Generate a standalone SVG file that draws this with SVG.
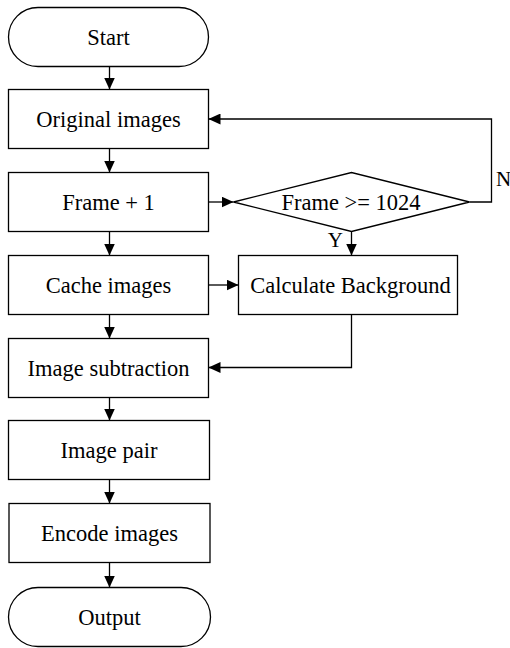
<svg xmlns="http://www.w3.org/2000/svg" width="510" height="648" viewBox="0 0 510 648">
  <style>
    .shape { fill: #ffffff; stroke: #000000; stroke-width: 1.3; }
    .edge { fill: none; stroke: #000000; stroke-width: 1.3; }
    .label { font-family: "Liberation Serif", "Times New Roman", serif; font-size: 22.5px; fill: #000000; text-anchor: middle; }
    .mark { font-family: "Liberation Serif", "Times New Roman", serif; font-size: 21px; fill: #000000; }
  </style>
  <defs>
    <marker id="arrow" markerUnits="userSpaceOnUse" markerWidth="12" markerHeight="11" refX="12" refY="5.5" orient="auto">
      <path d="M0,0 L12,5.5 L0,11 z" fill="#000000"/>
    </marker>
  </defs>
  <rect width="510" height="648" fill="#ffffff"/>

  <g id="connectors">
    <path class="edge" marker-end="url(#arrow)" d="M109.5,66.5 V89.5"/>
    <path class="edge" marker-end="url(#arrow)" d="M109.5,148.5 V172.5"/>
    <path class="edge" marker-end="url(#arrow)" d="M109.5,231.5 V255.5"/>
    <path class="edge" marker-end="url(#arrow)" d="M109.5,314.5 V338.5"/>
    <path class="edge" marker-end="url(#arrow)" d="M109.5,397.5 V420.5"/>
    <path class="edge" marker-end="url(#arrow)" d="M109.5,479.5 V503.5"/>
    <path class="edge" marker-end="url(#arrow)" d="M109.5,562.5 V587.5"/>
    <path class="edge" marker-end="url(#arrow)" d="M208.5,202 H233.5"/>
    <path class="edge" marker-end="url(#arrow)" d="M469.5,202 H491.5 V119 H208.5"/>
    <path class="edge" marker-end="url(#arrow)" d="M351.5,231.5 V255.5"/>
    <path class="edge" marker-end="url(#arrow)" d="M208.5,285 H238.5"/>
    <path class="edge" marker-end="url(#arrow)" d="M351.5,314.5 V367.5 H208.5"/>
    <text class="mark" x="496" y="186">N</text>
    <text class="mark" x="343" y="247" text-anchor="end">Y</text>
  </g>

  <g id="start">
    <rect class="shape" x="8.5" y="7.5" width="200" height="59" rx="29.5"/>
    <text class="label" x="108.5" y="44.5">Start</text>
  </g>
  <g id="original-images">
    <rect class="shape" x="8.5" y="89.5" width="200" height="59"/>
    <text class="label" x="108.5" y="126.5">Original images</text>
  </g>
  <g id="frame-plus-one">
    <rect class="shape" x="8.5" y="172.5" width="200" height="59"/>
    <text class="label" x="108.5" y="209.5">Frame + 1</text>
  </g>
  <g id="frame-check">
    <polygon class="shape" points="233.5,202 351.5,172.5 469.5,202 351.5,231.5"/>
    <text class="label" x="351" y="209.5">Frame &gt;= 1024</text>
  </g>
  <g id="cache-images">
    <rect class="shape" x="8.5" y="255.5" width="200" height="59"/>
    <text class="label" x="108.5" y="292.5">Cache images</text>
  </g>
  <g id="calculate-background">
    <rect class="shape" x="238.5" y="255.5" width="219" height="59"/>
    <text class="label" x="350.5" y="292.5">Calculate Background</text>
  </g>
  <g id="image-subtraction">
    <rect class="shape" x="8.5" y="338.5" width="200" height="59"/>
    <text class="label" x="108.5" y="375.5">Image subtraction</text>
  </g>
  <g id="image-pair">
    <rect class="shape" x="8.5" y="420.5" width="201" height="59"/>
    <text class="label" x="109" y="457.5">Image pair</text>
  </g>
  <g id="encode-images">
    <rect class="shape" x="9" y="503.5" width="201" height="59"/>
    <text class="label" x="109.5" y="540.5">Encode images</text>
  </g>
  <g id="output">
    <rect class="shape" x="8.5" y="587.5" width="202" height="59" rx="29.5"/>
    <text class="label" x="109.5" y="624.5">Output</text>
  </g>
</svg>
